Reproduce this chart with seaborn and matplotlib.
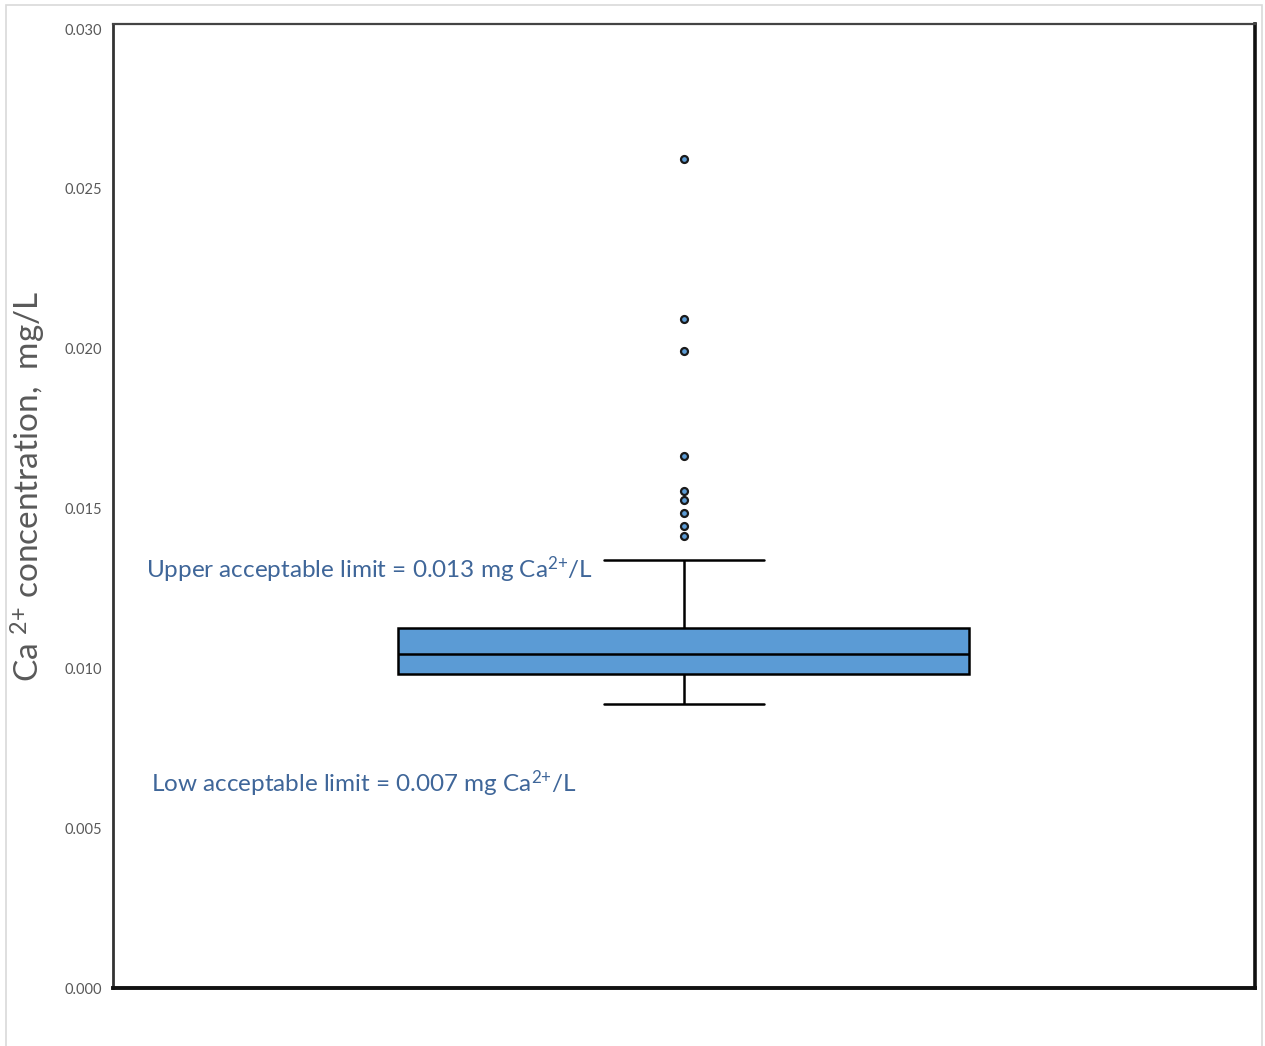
import matplotlib
matplotlib.use("Agg")
import matplotlib.pyplot as plt
import matplotlib.transforms as mtransforms
from matplotlib.patches import Rectangle
import seaborn as sns

# Ca2+ readings, mg/L (box stats: whiskers, quartiles,
# median; the points in between are estimates, the top 9 are the outliers)
ca_values = [
    0.00888, 0.00920, 0.00935, 0.00948, 0.00955, 0.00962, 0.00968, 0.00973,
    0.00977, 0.00981, 0.00984, 0.00990, 0.00995, 0.01000, 0.01008, 0.01013,
    0.01020, 0.01026, 0.01032, 0.01038, 0.01044, 0.01050, 0.01056, 0.01063,
    0.01070, 0.01078, 0.01085, 0.01093, 0.01102, 0.01112, 0.01125, 0.01339,
]
ca_outliers = [0.01413, 0.01444, 0.01485, 0.01528, 0.01556,
               0.01663, 0.01994, 0.02093, 0.02593]

y_ticks = [0.000, 0.005, 0.010, 0.015, 0.020, 0.025, 0.030]
upper_limit_label = "Upper acceptable limit = 0.013 mg Ca$^{2{+}}$/L"
low_limit_label = "Low acceptable limit = 0.007 mg Ca$^{2{+}}$/L"
y_label = "Ca $^{2{+}}$ concentration,  mg/L"

sns.set_style("white")
plt.rcParams["font.family"] = ["Lato", "DejaVu Sans"]
plt.rcParams["mathtext.fontset"] = "custom"
plt.rcParams["mathtext.rm"] = "Lato"
plt.rcParams["mathtext.default"] = "regular"

fig = plt.figure(figsize=(12.65, 10.46), dpi=100)
ax = fig.add_axes([0.0893, 0.0554, 0.9028, 0.9217])

sns.boxplot(
    y=ca_values + ca_outliers,
    ax=ax,
    width=0.5,
    whis=1.8,
    color="#5B9BD5",
    linecolor="black",
    linewidth=1.8,
    saturation=1,
    capwidths=0.14,
    flierprops=dict(marker="o", markersize=5, markerfacecolor="#5B9BD5",
                    markeredgecolor="#1a1a1a", markeredgewidth=1.6),
)

ax.set_xlim(-0.5, 0.5)
ax.set_ylim(0, 0.03016)
ax.set_xticks([])
ax.set_yticks(y_ticks)
ax.set_yticklabels([f"{t:.3f}" for t in y_ticks])
ax.tick_params(axis="y", length=0, pad=8, labelsize=10.5, labelcolor="#595959")

ax.set_ylabel(y_label, fontsize=24, color="#595959")
ax.yaxis.set_label_coords(-0.057, 0.52)

for side, lw, col in [("top", 1.6, "#444444"), ("left", 2.0, "#333333"),
                      ("right", 2.6, "#111111"), ("bottom", 2.8, "#111111")]:
    ax.spines[side].set_linewidth(lw)
    ax.spines[side].set_color(col)

trans = mtransforms.blended_transform_factory(ax.transAxes, ax.transData)
ax.text(0.029, 0.01308, upper_limit_label, transform=trans, va="center",
        ha="left", fontsize=17.5, color="#3F6699")
ax.text(0.033, 0.00638, low_limit_label, transform=trans, va="center",
        ha="left", fontsize=17.5, color="#3F6699")

# light grey outer frame
fig.patches.append(Rectangle((6 / 1265, -0.01), 1256 / 1265, 1.0052,
                             transform=fig.transFigure, fill=False,
                             edgecolor="#d9d9d9", linewidth=1.2))

fig.savefig("out.png", dpi=100)
